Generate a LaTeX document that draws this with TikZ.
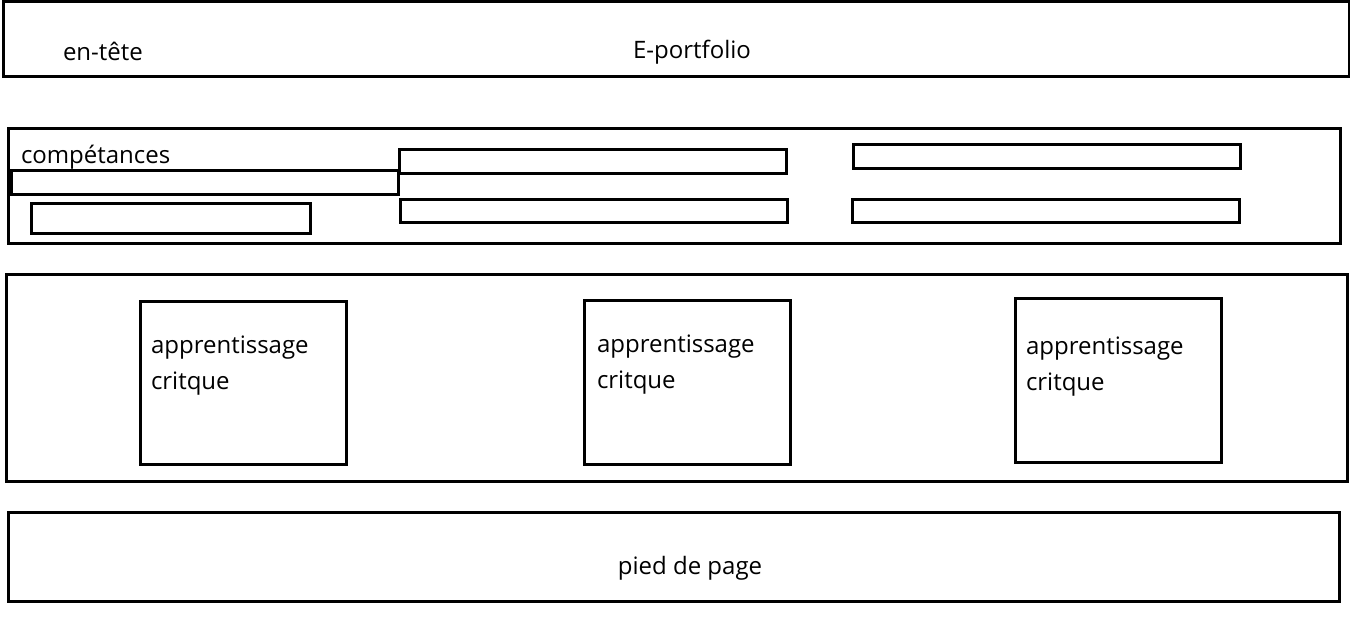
\documentclass[tikz,border=0pt]{standalone}
\usepackage{fontspec}
\setmainfont{Open Sans}
\begin{document}
\begin{tikzpicture}[x=1pt,y=-1pt,
  frame/.style={draw=black,line width=3pt,inner sep=0pt,outer sep=0pt,anchor=north west},
  lbl/.style={inner sep=0pt,outer sep=0pt,anchor=base west,font=\fontsize{24}{36}\selectfont},
  cardtext/.style={lbl,align=left}]
\useasboundingbox (0,0) rectangle (1350,619);
\newcommand{\boxat}[5]{\node[frame,minimum width=#4-#2,minimum height=#5-#3] (#1) at (#2,#3) {};}
% page header
\boxat{header}{3}{1}{1349}{76}
\node[lbl] (entete) at (63,60) {en-tête};
\node[lbl,anchor=base] (title) at (692,58) {E-portfolio};
% skills band
\boxat{skills}{8}{128}{1340}{243}
\node[lbl] (skillslbl) at (21,163) {compétances};
\boxat{s1}{11}{170}{398}{194}
\boxat{s2}{31}{203}{310}{233}
\boxat{s3}{399}{149}{786}{173}
\boxat{s4}{400}{199}{787}{222}
\boxat{s5}{853}{144}{1240}{168}
\boxat{s6}{852}{199}{1239}{222}
% learning band
\boxat{learn}{6}{274}{1347}{481}
\boxat{c1}{140}{301}{346}{464}
\boxat{c2}{584}{300}{790}{464}
\boxat{c3}{1015}{298}{1221}{462}
\node[lbl] (c1a) at (151,353) {apprentissage};
\node[lbl] (c1b) at (151,389) {critque};
\node[lbl] (c2a) at (597,352) {apprentissage};
\node[lbl] (c2b) at (597,388) {critque};
\node[lbl] (c3a) at (1026,354) {apprentissage};
\node[lbl] (c3b) at (1026,390) {critque};
% footer
\boxat{footer}{8}{512}{1339}{601}
\node[lbl,anchor=base] (footerlbl) at (690,574) {pied de page};
\end{tikzpicture}
\end{document}
